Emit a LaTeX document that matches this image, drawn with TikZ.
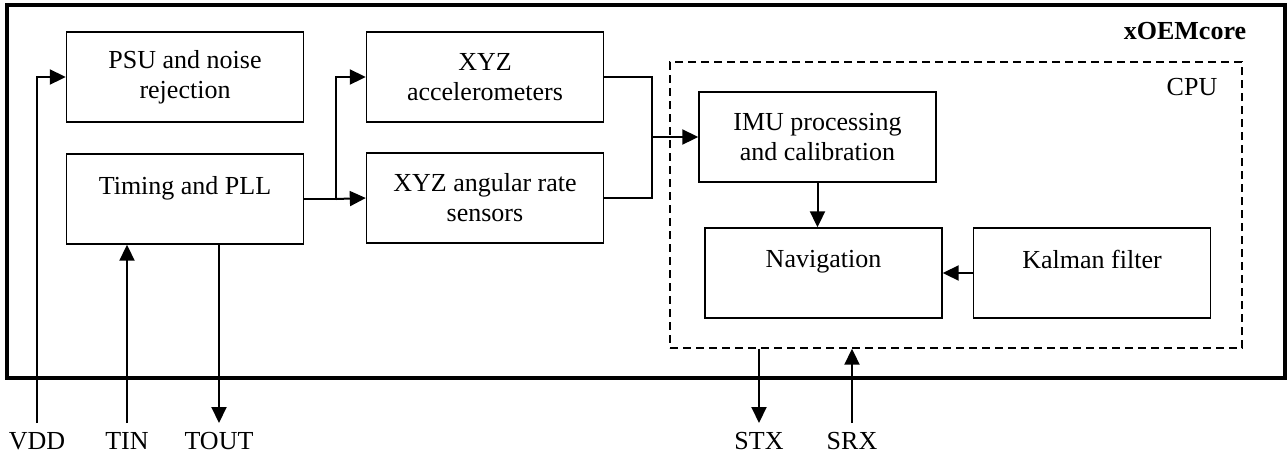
\documentclass[tikz,border=0pt]{standalone}
\usepackage{fontspec}
\setmainfont{Liberation Serif}
\usetikzlibrary{arrows.meta,positioning}

\begin{document}
\begin{tikzpicture}[x=1pt,y=-1pt,
		font=\fontsize{26}{30}\selectfont,
		block/.style={draw,line width=1.4pt,minimum width=237pt,minimum height=90pt,align=center,inner sep=2pt},
		oneline/.style={text depth=28pt},
		sig/.style={line width=2pt,-{Triangle[length=16pt,width=15pt]}},
		wire/.style={line width=2pt},
		pinlbl/.style={anchor=north,inner xsep=2pt,inner ysep=9pt}
	]
	\useasboundingbox (0,0) rectangle (1288,459);
	% Outer module and CPU area
	\node[draw,line width=3.8pt,minimum width=1278pt,minimum height=373pt,inner sep=0pt] (core) at (646,191.5) {};
	\node[draw,line width=1.4pt,dash pattern=on 8pt off 5pt,minimum width=572pt,minimum height=286pt,inner sep=0pt] (cpu) at (956,205) {};
	\node[font=\fontsize{26}{30}\selectfont\bfseries] (corename) at (1185,31) {xOEMcore};
	\node (cpuname) at (1192,87) {CPU};
	% Blocks
	\node[block] (psu) at (185,77) {PSU and noise\\rejection};
	\node[block,oneline] (timing) at (185,199) {Timing and PLL};
	\node[block] (acc) at (485,77) {XYZ\\accelerometers};
	\node[block] (gyro) at (485,198) {XYZ angular rate\\sensors};
	\node[block] (imu) at (817.5,137) {IMU processing\\and calibration};
	\node[block,oneline] (nav) at (823.5,273) {Navigation};
	\node[block,oneline] (kal) at (1092,273) {Kalman filter};
	% Pins
	\node[pinlbl] (vdd) at (37,423) {VDD};
	\node[pinlbl] (tin) at (127,423) {TIN};
	\node[pinlbl] (tout) at (219,423) {TOUT};
	\node[pinlbl] (stx) at (759,423) {STX};
	\node[pinlbl] (srx) at (852,423) {SRX};
	% Connections
	\draw[sig] (vdd.north) |- (psu.west);
	\draw[sig] (tin.north) -- (tin.north |- timing.south);
	\draw[sig] (tout.north |- timing.south) -- (tout.north);
	\coordinate (split) at ([xshift=32pt]timing.east);
	\draw[wire] (timing.east) -- (split);
	\draw[sig] (split) |- (acc.west);
	\draw[sig] (split) -- (gyro.west);
	\coordinate (merge) at (652,137);
	\draw[wire] (acc.east) -| (merge);
	\draw[wire] (gyro.east) -| (merge);
	\draw[sig] (merge) -- (imu.west);
	\draw[sig] (imu.south) -- (imu.south |- nav.north);
	\draw[sig] (kal.west) -- (nav.east);
	\draw[sig] (stx.north |- cpu.south) -- (stx.north);
	\draw[sig] (srx.north) -- (srx.north |- cpu.south);
\end{tikzpicture}
\end{document}
